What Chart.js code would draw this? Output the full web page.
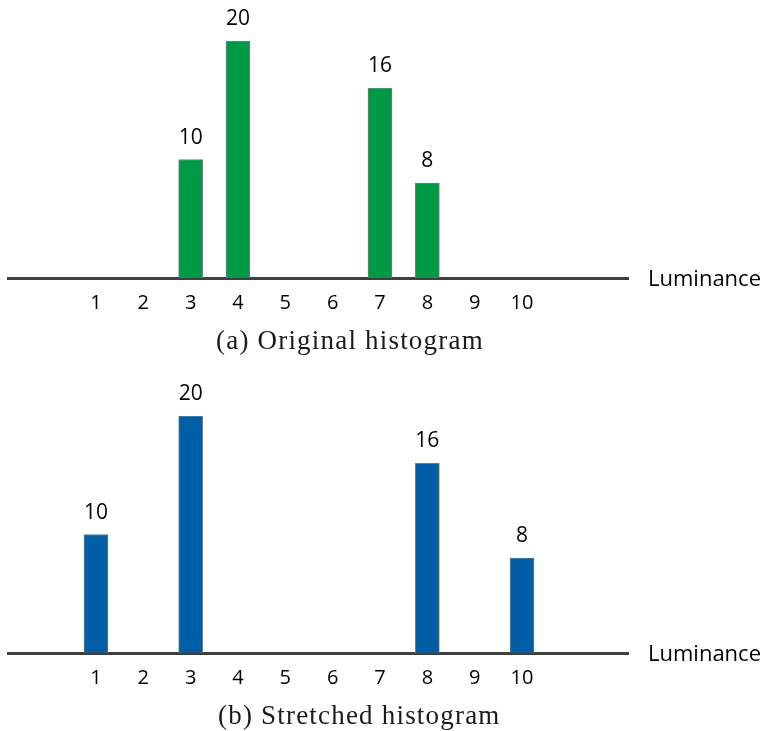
<!DOCTYPE html>
<html>
<head>
<meta charset="utf-8">
<script src="https://cdn.jsdelivr.net/npm/chart.js@4/dist/chart.umd.min.js"></script>
<style>
  html, body { margin: 0; padding: 0; background: #ffffff; }
  body { width: 766px; height: 731px; position: relative; overflow: hidden; }
  canvas { position: absolute; left: 0; }
  #chartA { top: 0; }
  #chartB { top: 375px; }
  .caption {
    position: absolute; font-family: "Liberation Serif", "DejaVu Serif", serif;
    font-size: 27px; letter-spacing: 1.2px; color: #1a1a1a; white-space: nowrap; line-height: 1;
  }
  #capA { left: 216px; top: 327px; }
  #capB { left: 218px; top: 702px; }
</style>
</head>
<body>
<canvas id="chartA" width="766" height="330"></canvas>
<canvas id="chartB" width="766" height="330"></canvas>
<div class="caption" id="capA">(a) Original histogram</div>
<div class="caption" id="capB">(b) Stretched histogram</div>
<script>
// ---- data ----
const luminanceTicks = [1, 2, 3, 4, 5, 6, 7, 8, 9, 10];
const originalLevels = [3, 4, 7, 8];
const originalCounts = [10, 20, 16, 8];
const stretchedLevels = [1, 3, 8, 10];
const stretchedCounts = [10, 20, 16, 8];
const axisTitle = "Luminance";

const valueLabelPlugin = {
  id: 'valueLabels',
  afterDatasetsDraw(chart) {
    const ctx = chart.ctx;
    const ds = chart.data.datasets[0];
    const meta = chart.getDatasetMeta(0);
    ctx.save();
    ctx.fillStyle = '#000000';
    ctx.font = '21px "Open Sans"';
    ctx.textAlign = 'center';
    ctx.textBaseline = 'alphabetic';
    meta.data.forEach((bar, i) => {
      ctx.fillText(String(ds.data[i].y), bar.x, bar.y - 16);
    });
    ctx.restore();
  },
  afterDraw(chart) {
    const ctx = chart.ctx;
    const area = chart.chartArea;
    ctx.save();
    ctx.fillStyle = '#000000';
    ctx.font = '22px "Open Sans"';
    ctx.textAlign = 'left';
    ctx.textBaseline = 'alphabetic';
    ctx.fillText(axisTitle, area.right + 20, area.bottom + 8);
    ctx.restore();
  }
};

function makeChart(id, levels, counts, color) {
  const points = levels.map((lv, i) => ({ x: lv, y: counts[i] }));
  return new Chart(document.getElementById(id), {
    type: 'bar',
    data: {
      datasets: [{
        data: points,
        backgroundColor: color,
        borderColor: '#7a7a7a',
        borderWidth: 1,
        barThickness: 24
      }]
    },
    options: {
      responsive: false,
      animation: false,
      devicePixelRatio: 1,
      layout: { padding: { top: 41, left: 8, right: 138, bottom: 0 } },
      plugins: { legend: { display: false }, tooltip: { enabled: false }, title: { display: false } },
      scales: {
        x: {
          type: 'linear',
          offset: false,
          min: -0.859,
          max: 12.239,
          z: 1,
          grid: { display: false, drawTicks: false, offset: false },
          border: { display: true, color: '#3f3f3f', width: 3 },
          afterBuildTicks: (scale) => { scale.ticks = luminanceTicks.map(v => ({ value: v })); },
          afterFit: (scale) => { scale.height = 52; },
          ticks: {
            autoSkip: false,
            maxRotation: 0,
            padding: 13,
            color: '#000000',
            font: { family: '"Open Sans"', size: 20 },
            callback: (v) => String(v)
          }
        },
        y: {
          display: false,
          min: 0,
          max: 20
        }
      }
    },
    plugins: [valueLabelPlugin]
  });
}

makeChart('chartA', originalLevels, originalCounts, '#009a46');
makeChart('chartB', stretchedLevels, stretchedCounts, '#005ea6');
</script>
</body>
</html>
